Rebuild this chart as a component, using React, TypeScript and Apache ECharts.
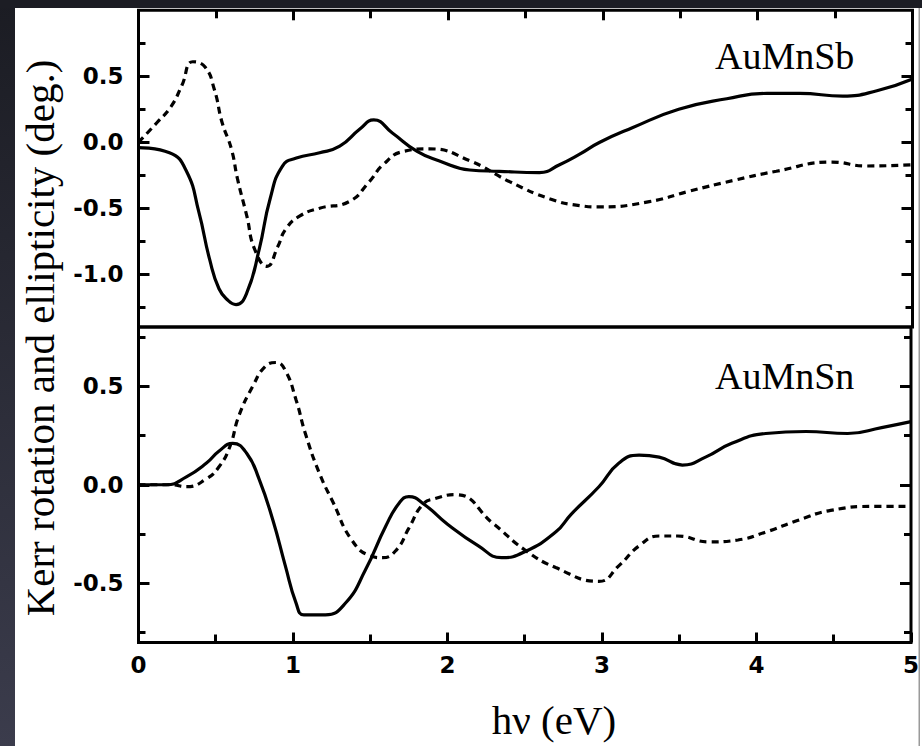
import React, { useEffect, useRef } from "react";
import * as echarts from "echarts";

// ---- Data ----
// AuMnSb, solid curve
const sbSolidE = [0, 0.2, 0.31, 0.39, 0.46, 0.52, 0.58, 0.63, 0.7, 0.78, 0.85, 0.93, 1.02, 1.17, 1.3, 1.43, 1.52, 1.64, 1.8, 1.94, 2.14, 2.33, 2.59, 2.72, 2.85, 2.98, 3.19, 3.49, 3.8, 4.06, 4.27, 4.55, 4.77, 5.0];
const sbSolidV = [-0.04, -0.08, -0.22, -0.53, -0.89, -1.11, -1.2, -1.23, -1.14, -0.81, -0.43, -0.18, -0.12, -0.08, -0.03, 0.1, 0.17, 0.07, -0.07, -0.14, -0.21, -0.22, -0.23, -0.17, -0.09, 0.0, 0.11, 0.25, 0.33, 0.37, 0.37, 0.35, 0.39, 0.48];
// AuMnSb, dashed curve
const sbDashE = [0, 0.12, 0.21, 0.28, 0.35, 0.43, 0.49, 0.54, 0.6, 0.64, 0.7, 0.75, 0.83, 0.9, 0.95, 1.04, 1.17, 1.36, 1.49, 1.58, 1.71, 1.88, 2.14, 2.4, 2.66, 2.85, 2.98, 3.3, 3.56, 3.84, 4.12, 4.48, 4.7, 5.0];
const sbDashV = [0.0, 0.15, 0.27, 0.43, 0.61, 0.57, 0.4, 0.15, -0.05, -0.28, -0.56, -0.81, -0.94, -0.79, -0.66, -0.56, -0.5, -0.45, -0.3, -0.17, -0.07, -0.05, -0.14, -0.3, -0.43, -0.48, -0.49, -0.45, -0.37, -0.29, -0.22, -0.15, -0.18, -0.17];
// AuMnSn, solid curve
const snSolidE = [0, 0.18, 0.31, 0.44, 0.52, 0.61, 0.7, 0.78, 0.87, 0.95, 1.02, 1.07, 1.21, 1.34, 1.47, 1.6, 1.69, 1.75, 1.85, 2.0, 2.2, 2.35, 2.5, 2.7, 2.8, 2.98, 3.11, 3.24, 3.37, 3.52, 3.67, 3.84, 4.06, 4.32, 4.59, 4.81, 5.0];
const snSolidV = [0, 0.0, 0.04, 0.11, 0.17, 0.21, 0.16, 0.03, -0.18, -0.41, -0.6, -0.66, -0.66, -0.6, -0.43, -0.21, -0.09, -0.06, -0.1, -0.2, -0.31, -0.37, -0.34, -0.24, -0.15, -0.01, 0.11, 0.15, 0.14, 0.1, 0.14, 0.21, 0.26, 0.27, 0.26, 0.29, 0.32];
// AuMnSn, dashed curve
const snDashE = [0, 0.21, 0.31, 0.44, 0.52, 0.59, 0.65, 0.74, 0.82, 0.89, 0.95, 1.02, 1.08, 1.17, 1.26, 1.38, 1.5, 1.58, 1.67, 1.75, 1.84, 1.92, 2.05, 2.3, 2.5, 2.7, 2.98, 3.11, 3.24, 3.37, 3.49, 3.69, 3.88, 4.06, 4.27, 4.48, 4.77, 5.0];
const snDashV = [0, 0.0, -0.01, 0.03, 0.09, 0.19, 0.35, 0.5, 0.6, 0.62, 0.58, 0.43, 0.26, 0.06, -0.09, -0.28, -0.36, -0.37, -0.33, -0.22, -0.1, -0.07, -0.05, -0.2, -0.33, -0.42, -0.49, -0.41, -0.31, -0.26, -0.26, -0.29, -0.28, -0.24, -0.18, -0.13, -0.11, -0.11];

// Axis ranges and ticks
const xMin = 0;
const xMax = 5;
const xInterval = 1;
const topRange = [-1.4, 1.0];
const bottomRange = [-0.8, 0.8];
const topMajorTicks = [-1.0, -0.5, 0.0, 0.5];
const topMinorTicks = [-1.25, -0.75, -0.25, 0.25, 0.75];
const bottomMajorTicks = [-0.5, 0.0, 0.5];
const bottomMinorTicks = [-0.75, -0.25, 0.25, 0.75];

const panelLabels = ["AuMnSb", "AuMnSn"];
const yName = "Kerr rotation and ellipticity (deg.)";
const xName = "h\u03bd (eV)";

const zip = (e: number[], v: number[]) => e.map((x, i) => [x, v[i]]);

const SERIF = "Liberation Serif";
const SANS = "DejaVu Sans";

function yAxes(gridIndex: number, range: number[], major: number[], minor: number[]) {
  const base = (position: string, ticks: number[], len: number, labels: boolean) => ({
    type: "value",
    gridIndex,
    min: range[0],
    max: range[1],
    position,
    axisLine: { show: false, onZero: false },
    splitLine: { show: false },
    axisTick: {
      show: true,
      inside: true,
      length: len,
      customValues: ticks,
      lineStyle: { color: "#000", width: 3 },
    },
    axisLabel: labels
      ? {
          show: true,
          customValues: ticks,
          formatter: (v: number) => v.toFixed(1),
          fontFamily: SANS,
          fontWeight: "bold",
          fontSize: 23,
          color: "#000",
          margin: 15,
        }
      : { show: false },
  });
  return [
    base("left", major, 11, true),
    base("left", minor, 7, false),
    base("right", major, 11, false),
    base("right", minor, 7, false),
  ];
}

function xAxis(gridIndex: number, position: string, labels: boolean) {
  return {
    type: "value",
    gridIndex,
    min: xMin,
    max: xMax,
    interval: xInterval,
    position,
    axisLine: { show: false, onZero: false },
    splitLine: { show: false },
    axisTick: { show: true, inside: true, length: 10, lineStyle: { color: "#000", width: 3 } },
    minorTick: { show: true, splitNumber: 2, length: 8, lineStyle: { color: "#000", width: 3 } },
    minorSplitLine: { show: false },
    axisLabel: labels
      ? {
          show: true,
          showMinLabel: true,
          showMaxLabel: true,
          fontFamily: SANS,
          fontWeight: "bold",
          fontSize: 23,
          color: "#000",
          margin: 11,
          formatter: (v: number) => String(v),
        }
      : { show: false },
  };
}

function line(data: number[][], xi: number, yi: number, dashed: boolean) {
  return {
    type: "line",
    xAxisIndex: xi,
    yAxisIndex: yi,
    data,
    smooth: 0.5,
    showSymbol: false,
    symbol: "none",
    clip: true,
    lineStyle: { color: "#000", width: 3.2, type: dashed ? [7, 5] : "solid" },
  };
}

export default function App() {
  const ref = useRef<HTMLDivElement>(null);
  useEffect(() => {
    if (!ref.current) return;
    const chart = echarts.init(ref.current, null, { renderer: "svg" });
    const text = (t: string, x: number, y: number, size: number, align: string, rot = 0) => ({
      type: "text",
      x,
      y,
      rotation: rot,
      silent: true,
      style: {
        text: t,
        fontFamily: SERIF,
        fontSize: size,
        fill: "#000",
        align,
        verticalAlign: "middle",
      },
    });
    const option = {
      animation: false,
      backgroundColor: "#ffffff",
      grid: [
        { left: 138.5, right: 9.5, top: 10.3, height: 316.7, show: true, borderColor: "#000", borderWidth: 3, backgroundColor: "transparent" },
        { left: 138.5, right: 9.5, top: 327, height: 315.5, show: true, borderColor: "#000", borderWidth: 3, backgroundColor: "transparent" },
      ],
      xAxis: [xAxis(0, "top", false), xAxis(1, "bottom", true)],
      yAxis: [
        ...yAxes(0, topRange, topMajorTicks, topMinorTicks),
        ...yAxes(1, bottomRange, bottomMajorTicks, bottomMinorTicks),
      ],
      series: [
        line(zip(sbSolidE, sbSolidV), 0, 0, false),
        line(zip(sbDashE, sbDashV), 0, 0, true),
        line(zip(snSolidE, snSolidV), 1, 4, false),
        line(zip(snDashE, snDashV), 1, 4, true),
      ],
      graphic: [
        {
          type: "rect",
          shape: { x: 0, y: 0, width: 15, height: 746 },
          style: {
            fill: new echarts.graphic.LinearGradient(0, 0, 0, 1, [
              { offset: 0, color: "#1b1c23" },
              { offset: 1, color: "#3b3c4c" },
            ]),
          },
          silent: true,
        },
        {
          type: "rect",
          shape: { x: 0, y: 0, width: 922, height: 8 },
          style: { fill: "#1c1d24" },
          silent: true,
        },
        {
          type: "rect",
          shape: { x: 918.5, y: 8, width: 1.5, height: 738 },
          style: { fill: "#9a9a9a" },
          silent: true,
        },
        text(yName, 40, 338, 41, "center", Math.PI / 2),
        text(xName, 554, 720, 41, "center"),
        text(panelLabels[0], 715, 56, 38, "left"),
        text(panelLabels[1], 715, 376, 38, "left"),
      ],
    };
    chart.setOption(option as any);
    return () => chart.dispose();
  }, []);
  return (
    <div
      ref={ref}
      style={{ position: "absolute", left: 0, top: 0, width: 922, height: 746 }}
    />
  );
}
